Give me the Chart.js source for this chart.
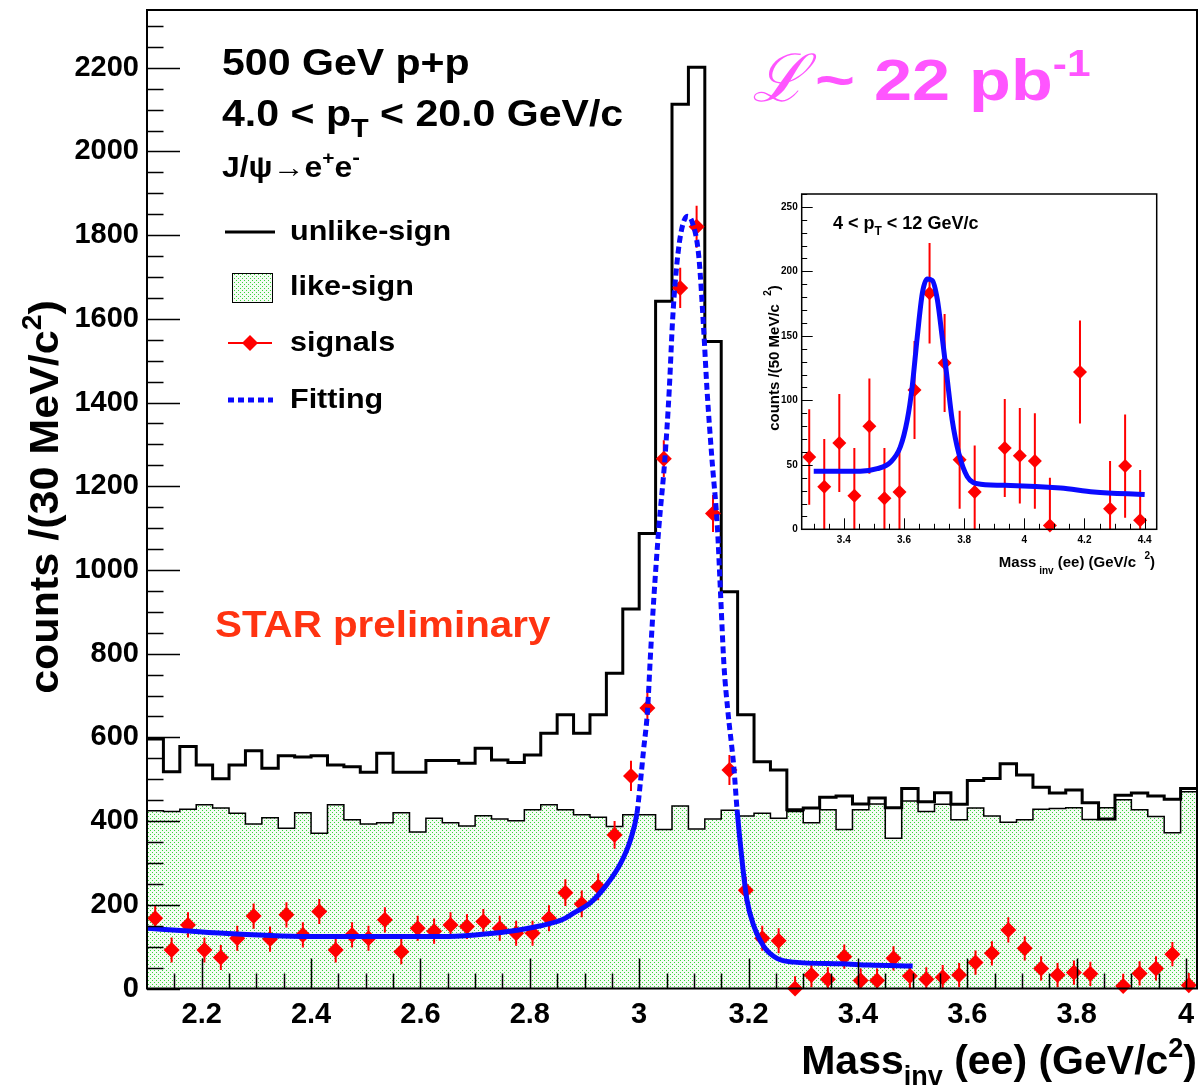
<!DOCTYPE html>
<html>
<head>
<meta charset="utf-8">
<title>J/psi to ee, 500 GeV p+p</title>
<script src="https://cdn.jsdelivr.net/npm/chart.js@4.4.1/dist/chart.umd.min.js"></script>
<style>
  html, body { margin: 0; padding: 0; background: #fff; }
  #wrap { position: relative; width: 1201px; height: 1086px; overflow: hidden; }
  #main { position: absolute; left: 0; top: 0; }
  #inset { position: absolute; left: 760px; top: 180px; }
</style>
</head>
<body>
<div id="wrap">
  <canvas id="main" width="1201" height="1086"></canvas>
  <canvas id="inset" width="437" height="410"></canvas>
</div>
<script>
// ---- main histogram: 30 MeV bins starting at 2.10 ----
const binLow = 2.10;
const binWidth = 0.03;

const unlikeSign = [596, 518, 578, 534, 501, 534, 568, 526, 556, 553, 556, 534, 530, 517, 562, 517,
                    517, 545, 545, 538, 574, 546, 540, 558, 610, 654, 610, 654, 753, 907, 1087, 1642,
                    2113, 2201, 1546, 948, 654, 542, 522, 427, 431, 457, 460, 441, 455, 432, 478, 446,
                    468, 440, 497, 502, 537, 510, 481, 467, 474, 444, 405, 462, 467, 460, 452, 478];

const likeSign = [425, 423, 428, 439, 431, 419, 393, 408, 383, 420, 371, 439, 403, 393, 396, 420,
                  374, 407, 396, 388, 413, 405, 401, 427, 439, 427, 415, 409, 387, 415, 415, 380,
                  436, 381, 405, 426, 412, 419, 407, 423, 396, 427, 380, 427, 441, 359, 448, 423,
                  440, 403, 431, 412, 397, 403, 428, 430, 432, 404, 432, 451, 427, 411, 372, 470];

const signals = [168, 92, 152, 92, 74, 120, 173, 118, 176, 128, 184, 92, 128, 120, 164, 88,
                 144, 137, 152, 148, 160, 144, 132, 132, 168, 229, 202, 243, 367, 508, 670, 1266,
                 1674, 1820, 1135, 522, 235, 120, 114, 0, 32, 22, 76, 19, 19, 72, 30, 22,
                 27, 32, 62, 84, 140, 96, 48, 32, 38, 35, null, 6, 36, 48, 82, 8];

const signalErr = [30, 30, 30, 30, 30, 30, 30, 30, 30, 30, 30, 30, 30, 30, 30, 30,
                   30, 30, 30, 30, 30, 30, 30, 30, 31, 32, 32, 32, 33, 36, 38, 44,
                   48, 50, 44, 36, 32, 30, 30, 29, 29, 29, 29, 29, 29, 29, 29, 29,
                   29, 29, 29, 29, 30, 29, 29, 29, 29, 29, 29, 29, 29, 29, 29, 29];

const fitMass = [2.10, 2.24, 2.41, 2.64, 2.70, 2.76, 2.82, 2.86, 2.88, 2.91, 2.94, 2.966, 2.984, 2.996,
                 3.002, 3.008, 3.015, 3.021, 3.027, 3.036, 3.047, 3.055, 3.061, 3.067, 3.076, 3.088,
                 3.097, 3.109, 3.118, 3.124, 3.133, 3.143, 3.149, 3.155, 3.162, 3.173, 3.179, 3.188,
                 3.197, 3.210, 3.228, 3.252, 3.283, 3.37, 3.42, 3.50];
const fitCounts = [144, 132, 124, 124, 128, 136, 150, 165, 180, 204, 247, 299, 355, 419,
                   490, 570, 660, 806, 937, 1102, 1266, 1431, 1595, 1705, 1803, 1845,
                   1831, 1749, 1573, 1431, 1266, 1102, 937, 773, 665, 530, 427, 307,
                   212, 148, 100, 72, 63, 59, 56, 54];

const xTickLabels = [2.2, 2.4, 2.6, 2.8, 3.0, 3.2, 3.4, 3.6, 3.8, 4.0];
const yTickLabels = [0, 200, 400, 600, 800, 1000, 1200, 1400, 1600, 1800, 2000, 2200];

// ---- inset: 50 MeV bins, 4 < pT < 12 GeV/c ----
const insetMass = [3.285, 3.335, 3.385, 3.435, 3.485, 3.535, 3.585, 3.635, 3.685, 3.735, 3.785, 3.835,
                   3.885, 3.935, 3.985, 4.035, 4.085, 4.135, 4.185, 4.235, 4.285, 4.335, 4.385];
const insetSignals = [56, 33, 67, 26, 80, 24, 29, 108, 183, 129, 54, 29,
                      null, 63, 57, 53, 3, null, 122, null, 16, 49, 7];
const insetErr = [37, 37, 38, 37, 37, 39, 36, 38, 39, 38, 38, 36,
                  37, 38, 37, 37, 37, 37, 40, 37, 37, 40, 39];
const insetFitMass = [3.30, 3.455, 3.511, 3.555, 3.588, 3.611, 3.627, 3.644, 3.661, 3.677, 3.694,
                      3.711, 3.727, 3.744, 3.760, 3.782, 3.810, 3.855, 3.954, 4.121, 4.231, 4.40];
const insetFitCounts = [45, 45, 47, 52, 64, 85, 110, 149, 183, 194, 193,
                        178, 149, 116, 85, 59, 41, 35, 34, 32, 29, 27];
const insetXTicks = [3.4, 3.6, 3.8, 4.0, 4.2, 4.4];
const insetYTicks = [0, 50, 100, 150, 200, 250];

const FONT = '"Liberation Sans", Arial, Helvetica, sans-serif';
const RED = '#ff0000';
const BLUE = '#0a0aff';

// green dotted fill like ROOT's fill style
function dotPattern(ctx) {
    const c = document.createElement('canvas');
    c.width = 4; c.height = 4;
    const g = c.getContext('2d');
    g.fillStyle = '#f4fcf3';
    g.fillRect(0, 0, 4, 4);
    g.fillStyle = '#3ad43a';
    g.fillRect(0, 0, 1, 1);
    g.fillRect(2, 2, 1, 1);
    return ctx.createPattern(c, 'repeat');
}

// bin edges -> points for a stepped outline (value held across each bin)
function histPoints(vals) {
    const pts = vals.map((v, i) => ({ x: binLow + i * binWidth, y: v }));
    pts.push({ x: binLow + vals.length * binWidth, y: vals[vals.length - 1] });
    return pts;
}

// text with sub/superscripts: parts = [text, size, dy]; sx stretches horizontally
function rich(ctx, x, y, parts, align, sx) {
    sx = sx || 1;
    let w = 0;
    parts.forEach(p => {
        ctx.font = 'bold ' + p[1] + 'px ' + FONT;
        w += ctx.measureText(p[0]).width;
    });
    w *= sx;
    const start = align === 'right' ? x - w : align === 'center' ? x - w / 2 : x;
    ctx.save();
    ctx.translate(start, y);
    ctx.scale(sx, 1);
    let cx = 0;
    parts.forEach(p => {
        ctx.font = 'bold ' + p[1] + 'px ' + FONT;
        ctx.fillText(p[0], cx, p[2] || 0);
        cx += ctx.measureText(p[0]).width;
    });
    ctx.restore();
}

function diamond(ctx, x, y, r) {
    ctx.beginPath();
    ctx.moveTo(x, y - r);
    ctx.lineTo(x + r, y);
    ctx.lineTo(x, y + r);
    ctx.lineTo(x - r, y);
    ctx.closePath();
    ctx.fill();
}

// fixed plot box: no extra padding from tick labels
function noPadX(size) {
    return s => { s.height = size; s.paddingLeft = 0; s.paddingRight = 0; };
}
function noPadY(size) {
    return s => { s.width = size; s.paddingTop = 0; s.paddingBottom = 0; };
}

// vertical error bars, drawn before the markers
const errorBars = {
    id: 'errorBars',
    beforeDatasetDraw(chart, args) {
        const ds = chart.data.datasets[args.index];
        if (!ds.errors) return;
        const { ctx, scales: { x, y } } = chart;
        ctx.save();
        ctx.strokeStyle = RED;
        ctx.lineWidth = ds.errWidth || 2;
        ctx.beginPath();
        ds.data.forEach((p, i) => {
            if (p.y == null) return;
            const px = x.getPixelForValue(p.x);
            ctx.moveTo(px, y.getPixelForValue(p.y + ds.errors[i]));
            ctx.lineTo(px, y.getPixelForValue(Math.max(0, p.y - ds.errors[i])));
        });
        ctx.stroke();
        ctx.restore();
    }
};

// ROOT style frame with ticks pointing inwards
function frameTicks(o) {
    return {
        id: 'frameTicks',
        afterDatasetsDraw(chart) {
            const { ctx, chartArea: a, scales: { x, y } } = chart;
            ctx.save();
            ctx.strokeStyle = '#000';
            ctx.lineWidth = o.tickWidth;
            ctx.beginPath();
            for (let v = o.xMinor; v <= x.max + 1e-9; v += o.xMinor) {
                const vv = Math.round(v * 1000) / 1000;
                if (vv <= x.min) continue;
                const major = Math.abs(vv / o.xMajor - Math.round(vv / o.xMajor)) < 1e-6;
                const px = Math.round(x.getPixelForValue(vv)) + 0.5;
                ctx.moveTo(px, a.bottom);
                ctx.lineTo(px, a.bottom - (major ? o.xLen : o.xLen / 2));
            }
            for (let v = 0; v <= y.max; v += o.yMinor) {
                const major = v % o.yMajor === 0;
                const py = Math.round(y.getPixelForValue(v)) + 0.5;
                ctx.moveTo(a.left, py);
                ctx.lineTo(a.left + (major ? o.yLen : o.yLen / 2), py);
            }
            ctx.stroke();
            ctx.lineWidth = o.frameWidth;
            ctx.strokeRect(a.left, a.top, a.right - a.left, a.bottom - a.top);
            ctx.restore();
        }
    };
}

const mainCanvas = document.getElementById('main');
const mctx = mainCanvas.getContext('2d');
const greenDots = dotPattern(mctx);

const annotations = {
    id: 'annotations',
    afterDraw(chart) {
        const ctx = chart.ctx;
        ctx.save();
        ctx.fillStyle = '#000';
        ctx.textBaseline = 'alphabetic';
        rich(ctx, 222, 75, [['500 GeV p+p', 37]], 'left', 1.11);
        rich(ctx, 222, 126, [['4.0 < p', 37], ['T', 26, 11], [' < 20.0 GeV/c', 37]], 'left', 1.11);
        rich(ctx, 222, 177, [['J/\u03C8\u2192e', 29], ['+', 19, -13], ['e', 29], ['-', 21, -13]], 'left', 1.1);

        // legend
        ctx.lineWidth = 3;
        ctx.strokeStyle = '#000';
        ctx.beginPath(); ctx.moveTo(225, 232); ctx.lineTo(275, 232); ctx.stroke();
        ctx.fillStyle = greenDots;
        ctx.fillRect(232, 273, 40, 29);
        ctx.lineWidth = 1;
        ctx.strokeRect(232.5, 273.5, 40, 29);
        ctx.strokeStyle = RED; ctx.lineWidth = 2;
        ctx.beginPath(); ctx.moveTo(228, 343); ctx.lineTo(272, 343); ctx.stroke();
        ctx.fillStyle = RED;
        diamond(ctx, 250, 343, 8);
        ctx.strokeStyle = BLUE; ctx.lineWidth = 5; ctx.setLineDash([6, 4]);
        ctx.beginPath(); ctx.moveTo(228, 400); ctx.lineTo(273, 400); ctx.stroke();
        ctx.setLineDash([]);
        ctx.fillStyle = '#000';
        ctx.textBaseline = 'middle';
        rich(ctx, 290, 232, [['unlike-sign', 28]], 'left', 1.09);
        rich(ctx, 290, 287, [['like-sign', 28]], 'left', 1.09);
        rich(ctx, 290, 343, [['signals', 28]], 'left', 1.09);
        rich(ctx, 290, 400, [['Fitting', 28]], 'left', 1.09);

        ctx.textBaseline = 'alphabetic';
        ctx.fillStyle = '#ff3311';
        rich(ctx, 215, 637, [['STAR preliminary', 36]], 'left', 1.12);

        ctx.fillStyle = '#ff55ff';
        ctx.font = 'italic 66px "DejaVu Serif", serif';
        ctx.fillText('\u2112', 752, 101);
        rich(ctx, 815, 100, [['~ 22 pb', 58], ['-1', 36, -24]], 'left', 1.18);

        // axis titles
        ctx.fillStyle = '#000';
        rich(ctx, 1197, 1074, [['Mass', 41], ['inv', 27, 11], [' (ee) (GeV/c', 41], ['2', 27, -17], [')', 41]], 'right');
        ctx.translate(58, 497);
        ctx.rotate(-Math.PI / 2);
        rich(ctx, 0, 0, [['counts /(30 MeV/c', 41], ['2', 27, -17], [')', 41]], 'center', 1.05);
        ctx.restore();
    }
};

new Chart(mainCanvas, {
    type: 'line',
    data: {
        datasets: [
            {
                label: 'like-sign',
                data: histPoints(likeSign),
                stepped: 'before',
                borderColor: '#000',
                borderWidth: 1.5,
                backgroundColor: greenDots,
                fill: 'origin',
                pointRadius: 0,
                order: 4
            },
            {
                label: 'unlike-sign',
                data: histPoints(unlikeSign),
                stepped: 'before',
                borderColor: '#000',
                borderWidth: 3,
                fill: false,
                pointRadius: 0,
                order: 3
            },
            {
                label: 'signals',
                data: signals.map((v, i) => ({ x: binLow + (i + 0.5) * binWidth, y: v })),
                errors: signalErr,
                errWidth: 2,
                showLine: false,
                pointStyle: 'rectRot',
                pointRadius: 8,
                pointBackgroundColor: RED,
                pointBorderColor: RED,
                pointBorderWidth: 0,
                clip: false,
                order: 2
            },
            {
                label: 'Fitting',
                data: fitMass.map((m, i) => ({ x: m, y: fitCounts[i] })),
                borderColor: BLUE,
                borderWidth: 5,
                cubicInterpolationMode: 'monotone',
                pointRadius: 0,
                fill: false,
                segment: {
                    borderDash: c => (c.p0.parsed.y > 415 && c.p1.parsed.y > 415) ? [7, 4] : undefined
                },
                order: 1
            }
        ]
    },
    options: {
        responsive: false,
        animation: false,
        layout: { autoPadding: false, padding: { top: 10, right: 4, left: 0, bottom: 0 } },
        plugins: { legend: { display: false }, tooltip: { enabled: false } },
        scales: {
            x: {
                type: 'linear',
                min: binLow,
                max: binLow + unlikeSign.length * binWidth,
                afterFit: noPadX(97.5),
                afterBuildTicks: s => { s.ticks = xTickLabels.map(v => ({ value: v })); },
                ticks: {
                    autoSkip: false, maxRotation: 0, padding: 9, color: '#000',
                    font: { family: FONT, size: 29, weight: 'bold' },
                    callback: v => String(Math.round(v * 10) / 10)
                },
                grid: { display: false, drawTicks: false },
                border: { display: false }
            },
            y: {
                min: 0,
                max: 2338,
                afterFit: noPadY(147),
                afterBuildTicks: s => { s.ticks = yTickLabels.map(v => ({ value: v })); },
                ticks: {
                    autoSkip: false, padding: 8, color: '#000',
                    font: { family: FONT, size: 29, weight: 'bold' },
                    callback: v => String(v)
                },
                grid: { display: false, drawTicks: false },
                border: { display: false }
            }
        }
    },
    plugins: [errorBars, frameTicks({ xMinor: 0.05, xMajor: 0.2, xLen: 30, yMinor: 50, yMajor: 200, yLen: 33, tickWidth: 1.5, frameWidth: 2 }), annotations]
});

// ---- inset ----
const insetText = {
    id: 'insetText',
    afterDraw(chart) {
        const ctx = chart.ctx;
        ctx.save();
        ctx.fillStyle = '#000';
        ctx.textBaseline = 'alphabetic';
        rich(ctx, 73, 49, [['4 < p', 18], ['T', 12, 6], [' < 12 GeV/c', 18]]);
        rich(ctx, 395, 387, [['Mass', 15], [' inv', 10, 7], [' (ee) (GeV/c  ', 15], ['2', 10, -8], [')', 15]], 'right');
        ctx.translate(19, 178);
        ctx.rotate(-Math.PI / 2);
        rich(ctx, 0, 0, [['counts /(50 MeV/c  ', 15], ['2', 10, -8], [')', 15]], 'center');
        ctx.restore();
    }
};

new Chart(document.getElementById('inset'), {
    type: 'line',
    data: {
        datasets: [
            {
                label: 'signals',
                data: insetMass.map((m, i) => ({ x: m, y: insetSignals[i] })),
                errors: insetErr,
                errWidth: 2,
                showLine: false,
                pointStyle: 'rectRot',
                pointRadius: 7,
                pointBackgroundColor: RED,
                pointBorderColor: RED,
                pointBorderWidth: 0,
                clip: false,
                order: 2
            },
            {
                label: 'fit',
                data: insetFitMass.map((m, i) => ({ x: m, y: insetFitCounts[i] })),
                borderColor: BLUE,
                borderWidth: 5,
                cubicInterpolationMode: 'monotone',
                pointRadius: 0,
                fill: false,
                order: 1
            }
        ]
    },
    options: {
        responsive: false,
        animation: false,
        layout: { autoPadding: false, padding: { top: 14, right: 40.3, left: 0, bottom: 0 } },
        plugins: { legend: { display: false }, tooltip: { enabled: false } },
        scales: {
            x: {
                type: 'linear',
                min: 3.26,
                max: 4.44,
                afterFit: noPadX(60.7),
                afterBuildTicks: s => { s.ticks = insetXTicks.map(v => ({ value: v })); },
                ticks: {
                    autoSkip: false, maxRotation: 0, padding: 5, color: '#000',
                    font: { family: FONT, size: 10, weight: 'bold' },
                    callback: v => String(Math.round(v * 10) / 10)
                },
                grid: { display: false, drawTicks: false },
                border: { display: false }
            },
            y: {
                min: 0,
                max: 260,
                afterFit: noPadY(41.7),
                afterBuildTicks: s => { s.ticks = insetYTicks.map(v => ({ value: v })); },
                ticks: {
                    autoSkip: false, padding: 4, color: '#000',
                    font: { family: FONT, size: 10, weight: 'bold' }
                },
                grid: { display: false, drawTicks: false },
                border: { display: false }
            }
        }
    },
    plugins: [errorBars, frameTicks({ xMinor: 0.05, xMajor: 0.2, xLen: 11, yMinor: 10, yMajor: 50, yLen: 11, tickWidth: 1, frameWidth: 1.5 }), insetText]
});
</script>
</body>
</html>
